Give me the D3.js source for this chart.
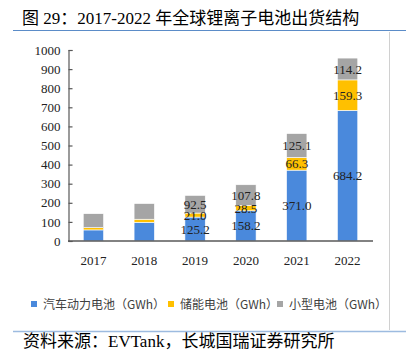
<!DOCTYPE html>
<html>
<head>
<meta charset="utf-8">
<script src="https://cdn.jsdelivr.net/npm/d3@7"></script>
<style>
	body { margin: 0; background: #fff; }
	svg { display: block; }
</style>
</head>
<body>
<svg id="chart" width="414" height="354"></svg>
<script>
// values (GWh)
const years = ["2017", "2018", "2019", "2020", "2021", "2022"];
const evValues = [58, 98, 125.2, 158.2, 371.0, 684.2];
const storageValues = [12, 16, 21.0, 28.5, 66.3, 159.3];
const smallValues = [73, 82, 92.5, 107.8, 125.1, 114.2];
const labeledYears = ["2019", "2020", "2021", "2022"];
const seriesNames = ["汽车动力电池（GWh）", "储能电池（GWh）", "小型电池（GWh）"];
const seriesColors = ["#4a89dc", "#ffc000", "#a5a5a5"];
const yTicks = [0, 100, 200, 300, 400, 500, 600, 700, 800, 900, 1000];

const serif = "'Liberation Serif', 'Noto Sans CJK SC', serif";
const cjk = "'Noto Sans CJK SC', sans-serif";

const svg = d3.select("#chart");

// title + rules
svg.append("text")
	.attr("x", 22).attr("y", 24)
	.attr("font-family", serif).attr("font-size", 17)
	.attr("fill", "#000")
	.text("图 29：2017-2022 年全球锂离子电池出货结构");

svg.append("line")
	.attr("x1", 13).attr("x2", 406).attr("y1", 30.5).attr("y2", 30.5)
	.attr("stroke", "#5b8cc8").attr("stroke-width", 1);

svg.append("line")
	.attr("x1", 389.5).attr("x2", 389.5).attr("y1", 32).attr("y2", 330)
	.attr("stroke", "#d0d0d0").attr("stroke-width", 1);

svg.append("line")
	.attr("x1", 13).attr("x2", 406).attr("y1", 331.5).attr("y2", 331.5)
	.attr("stroke", "#9dbbe0").attr("stroke-width", 1.5);

svg.append("text")
	.attr("x", 23).attr("y", 347)
	.attr("font-family", serif).attr("font-size", 17)
	.attr("fill", "#000")
	.text("资料来源：EVTank，长城国瑞证券研究所");

// chart
const x = d3.scaleBand().domain(years).range([68, 373]).paddingInner(0.6).paddingOuter(0.3);
const y = d3.scaleLinear().domain([0, 1000]).range([241, 50]);

const table = years.map((yr, i) => ({
	year: yr,
	ev: evValues[i],
	storage: storageValues[i],
	small: smallValues[i]
}));
const keys = ["ev", "storage", "small"];
const stacked = d3.stack().keys(keys)(table);

const g = svg.append("g");

g.selectAll("g.series")
	.data(stacked)
	.join("g")
	.attr("class", "series")
	.attr("fill", (d, i) => seriesColors[i])
	.selectAll("rect")
	.data(d => d)
	.join("rect")
	.attr("x", d => x(d.data.year))
	.attr("width", x.bandwidth())
	.attr("y", d => y(d[1]))
	.attr("height", d => y(d[0]) - y(d[1]))
	.attr("stroke", "#fff")
	.attr("stroke-width", 0.6);

// value labels (small segments overlap, as in the source)
stacked.forEach(s => {
	g.selectAll(null)
		.data(s.filter(d => labeledYears.includes(d.data.year)))
		.join("text")
		.attr("x", d => x(d.data.year) + x.bandwidth() / 2)
		.attr("y", d => (y(d[0]) + y(d[1])) / 2)
		.attr("dy", "0.35em")
		.attr("text-anchor", "middle")
		.attr("font-family", serif).attr("font-size", 13)
		.attr("fill", "#222")
		.text(d => (d[1] - d[0]).toFixed(1));
});

// axes
const yAxis = d3.axisLeft(y)
	.tickValues(yTicks)
	.tickFormat(d3.format("d"))
	.tickSizeInner(-4).tickSizeOuter(-4).tickPadding(8);
const gy = svg.append("g").attr("transform", "translate(68.5,0)").call(yAxis);
gy.selectAll("path, line").attr("stroke", "#595959").attr("stroke-width", 1.2);
gy.selectAll("text").attr("font-family", serif).attr("font-size", 13).attr("fill", "#222");

const xAxis = d3.axisBottom(x).tickSize(0).tickPadding(15);
const gx = svg.append("g").attr("transform", "translate(0,241)").call(xAxis);
gx.select("path").attr("stroke", "#595959").attr("stroke-width", 1.5).attr("d", "M68,0H373");
gx.selectAll("text").attr("font-family", serif).attr("font-size", 13).attr("fill", "#222");

// legend
const legendX = [31, 168, 277];
const legend = svg.append("g")
	.selectAll("g")
	.data(seriesNames)
	.join("g")
	.attr("transform", (d, i) => `translate(${legendX[i]},301)`);

legend.append("rect")
	.attr("width", 6).attr("height", 6)
	.attr("fill", (d, i) => seriesColors[i]);

legend.append("text")
	.attr("x", 12).attr("y", 8)
	.attr("font-family", cjk).attr("font-size", 12)
	.attr("fill", "#404040")
	.text(d => d);
</script>
</body>
</html>
